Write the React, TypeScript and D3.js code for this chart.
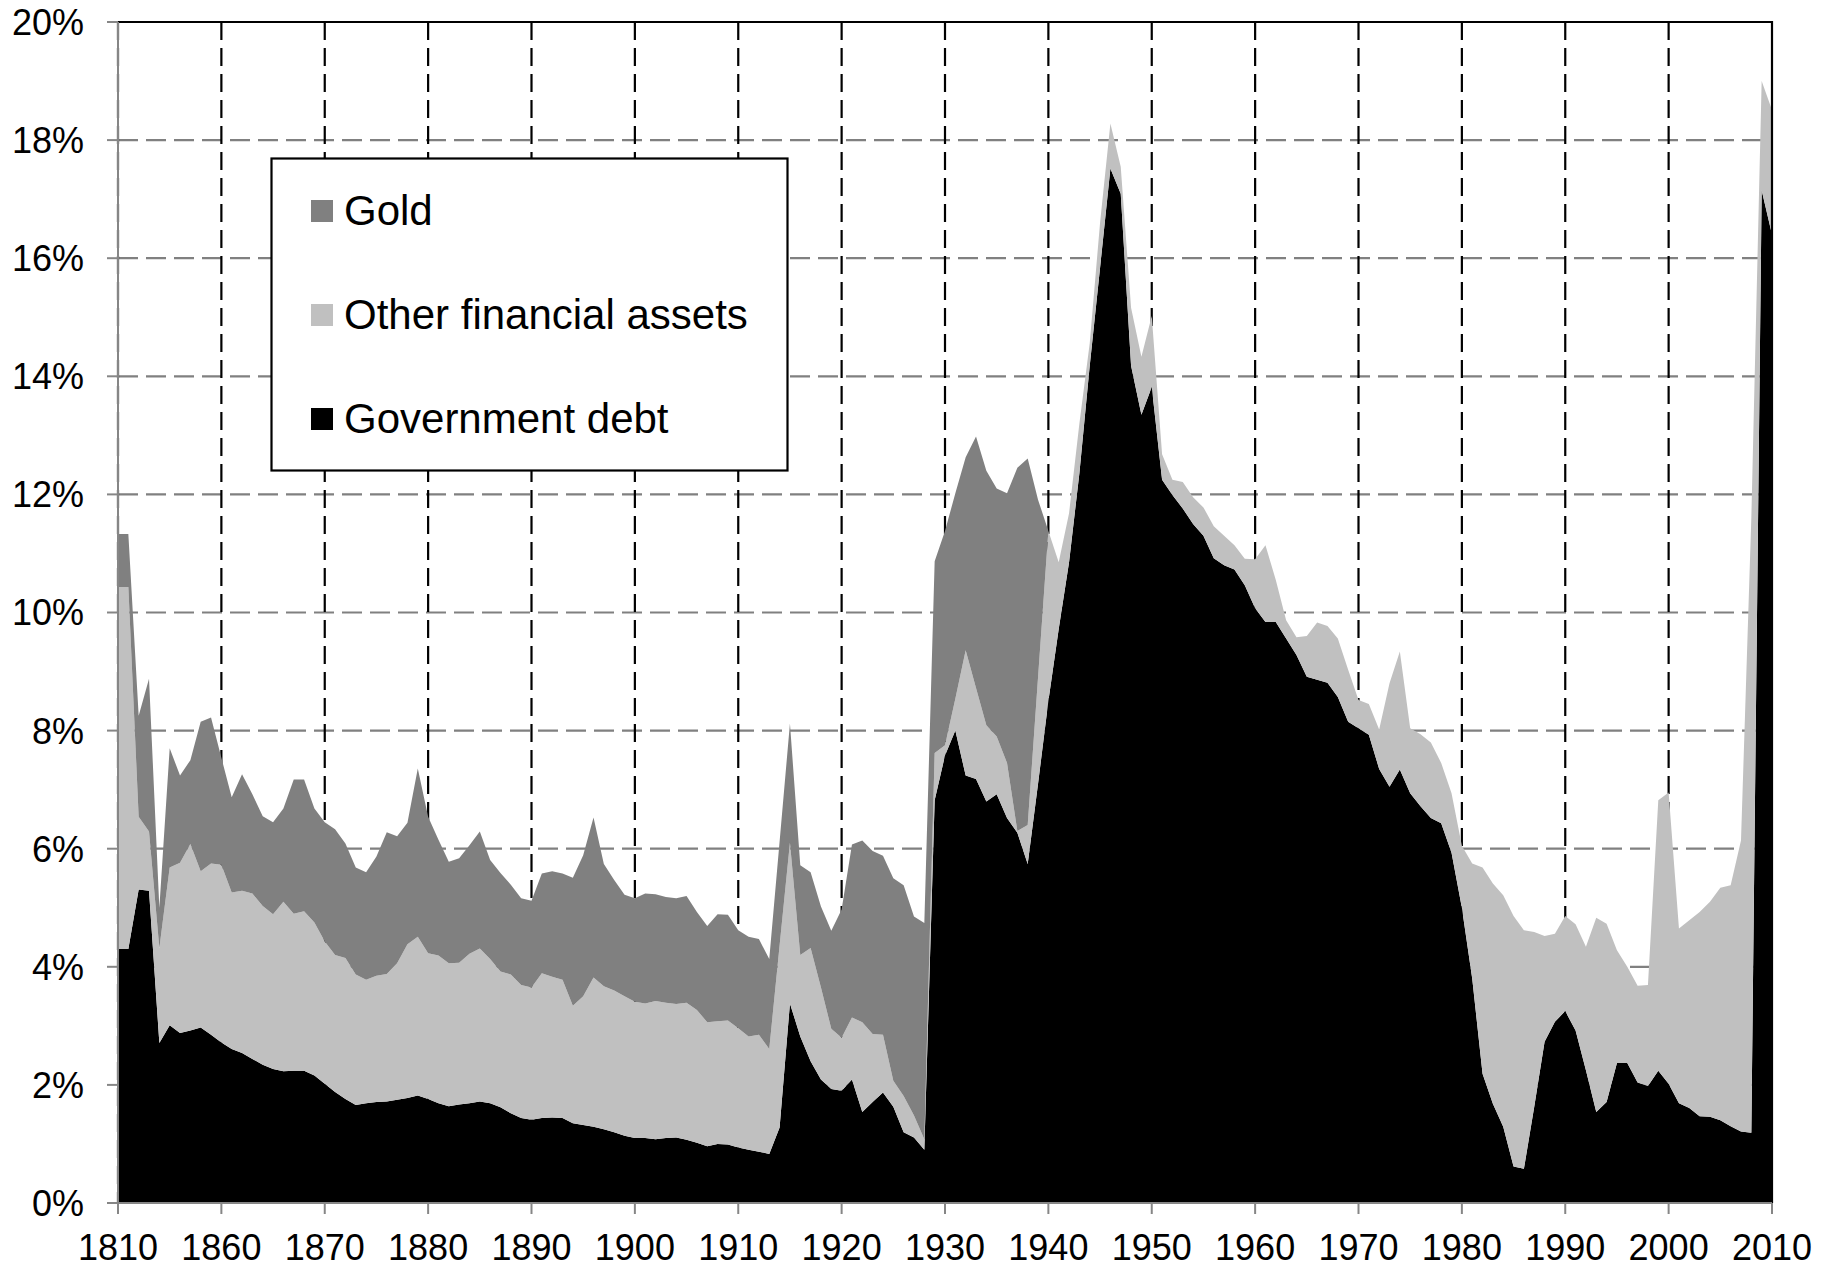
import React, { useEffect, useRef } from 'react';
import * as d3 from 'd3';

// categories: 5-year steps up to 1855, then annual
const years = [
  1810, 1815, 1820, 1825, 1830, 1835, 1840, 1845, 1850, 1855,
  1860, 1861, 1862, 1863, 1864, 1865, 1866, 1867, 1868, 1869,
  1870, 1871, 1872, 1873, 1874, 1875, 1876, 1877, 1878, 1879,
  1880, 1881, 1882, 1883, 1884, 1885, 1886, 1887, 1888, 1889,
  1890, 1891, 1892, 1893, 1894, 1895, 1896, 1897, 1898, 1899,
  1900, 1901, 1902, 1903, 1904, 1905, 1906, 1907, 1908, 1909,
  1910, 1911, 1912, 1913, 1914, 1915, 1916, 1917, 1918, 1919,
  1920, 1921, 1922, 1923, 1924, 1925, 1926, 1927, 1928, 1929,
  1930, 1931, 1932, 1933, 1934, 1935, 1936, 1937, 1938, 1939,
  1940, 1941, 1942, 1943, 1944, 1945, 1946, 1947, 1948, 1949,
  1950, 1951, 1952, 1953, 1954, 1955, 1956, 1957, 1958, 1959,
  1960, 1961, 1962, 1963, 1964, 1965, 1966, 1967, 1968, 1969,
  1970, 1971, 1972, 1973, 1974, 1975, 1976, 1977, 1978, 1979,
  1980, 1981, 1982, 1983, 1984, 1985, 1986, 1987, 1988, 1989,
  1990, 1991, 1992, 1993, 1994, 1995, 1996, 1997, 1998, 1999,
  2000, 2001, 2002, 2003, 2004, 2005, 2006, 2007, 2008, 2009,
  2010,
];

const xTickLabels = [
  '1810', '1860', '1870', '1880', '1890', '1900', '1910', '1920', '1930',
  '1940', '1950', '1960', '1970', '1980', '1990', '2000', '2010',
];
const yTicks = [0, 2, 4, 6, 8, 10, 12, 14, 16, 18, 20];

// % values per series (stacked: debt at the bottom, gold on top)
const govDebt = [
  4.30, 4.30, 5.31, 5.29, 2.71, 3.01, 2.88, 2.92, 2.97, 2.85,
  2.72, 2.61, 2.54, 2.44, 2.34, 2.27, 2.23, 2.24, 2.24, 2.16,
  2.02, 1.88, 1.76, 1.66, 1.69, 1.71, 1.72, 1.75, 1.78, 1.82,
  1.76, 1.69, 1.64, 1.67, 1.69, 1.72, 1.69, 1.62, 1.52, 1.44,
  1.41, 1.44, 1.45, 1.44, 1.35, 1.32, 1.29, 1.25, 1.20, 1.14,
  1.10, 1.10, 1.08, 1.10, 1.11, 1.07, 1.02, 0.96, 1.00, 0.99,
  0.94, 0.90, 0.87, 0.83, 1.28, 3.38, 2.82, 2.40, 2.09, 1.93,
  1.90, 2.09, 1.54, 1.71, 1.87, 1.63, 1.20, 1.11, 0.90, 6.82,
  7.58, 8.00, 7.24, 7.18, 6.80, 6.92, 6.52, 6.27, 5.74, 7.10,
  8.50, 9.72, 10.85, 12.36, 14.18, 15.84, 17.52, 17.09, 14.18, 13.35,
  13.82, 12.25, 11.99, 11.76, 11.50, 11.30, 10.92, 10.80, 10.73, 10.46,
  10.07, 9.84, 9.84, 9.56, 9.28, 8.91, 8.86, 8.81, 8.57, 8.15,
  8.04, 7.93, 7.35, 7.05, 7.34, 6.94, 6.72, 6.52, 6.43, 5.93,
  5.00, 3.80, 2.19, 1.68, 1.29, 0.62, 0.58, 1.63, 2.73, 3.07,
  3.25, 2.92, 2.25, 1.54, 1.71, 2.37, 2.37, 2.04, 1.98, 2.24,
  2.02, 1.69, 1.61, 1.47, 1.46, 1.40, 1.30, 1.21, 1.19, 17.15,
  16.40,
];

const otherAssets = [
  6.13, 6.13, 1.23, 1.00, 1.61, 2.67, 2.88, 3.16, 2.65, 2.90,
  3.01, 2.65, 2.75, 2.80, 2.69, 2.62, 2.87, 2.66, 2.70, 2.59,
  2.41, 2.32, 2.39, 2.21, 2.09, 2.14, 2.16, 2.31, 2.60, 2.69,
  2.47, 2.50, 2.42, 2.40, 2.53, 2.59, 2.44, 2.30, 2.35, 2.25,
  2.24, 2.45, 2.38, 2.34, 1.99, 2.18, 2.53, 2.42, 2.40, 2.36,
  2.31, 2.28, 2.34, 2.29, 2.26, 2.32, 2.25, 2.10, 2.08, 2.10,
  2.02, 1.92, 1.98, 1.78, 3.08, 2.72, 1.38, 1.92, 1.56, 1.02,
  0.90, 1.05, 1.52, 1.15, 0.98, 0.44, 0.61, 0.37, 0.18, 0.80,
  0.17, 0.54, 2.12, 1.54, 1.29, 0.98, 0.93, 0.03, 0.66, 1.80,
  2.88, 1.13, 0.83, 0.84, 0.38, 0.76, 0.76, 0.46, 0.98, 0.98,
  1.20, 0.43, 0.26, 0.45, 0.45, 0.48, 0.54, 0.50, 0.41, 0.45,
  0.83, 1.30, 0.71, 0.31, 0.30, 0.69, 0.97, 0.96, 0.99, 0.88,
  0.48, 0.52, 0.67, 1.75, 2.00, 1.10, 1.22, 1.28, 1.02, 1.01,
  1.05, 1.95, 3.49, 3.73, 3.92, 4.24, 4.04, 2.96, 1.79, 1.49,
  1.61, 1.80, 2.09, 3.29, 3.02, 1.91, 1.63, 1.64, 1.71, 4.58,
  4.93, 2.96, 3.18, 3.46, 3.64, 3.94, 4.08, 4.93, 10.41, 1.85,
  2.11,
];

const gold = [
  0.90, 0.90, 1.71, 2.59, 0.68, 2.02, 1.48, 1.42, 2.53, 2.47,
  1.81, 1.61, 1.97, 1.68, 1.52, 1.56, 1.58, 2.27, 2.23, 1.93,
  2.02, 2.13, 1.94, 1.81, 1.82, 2.02, 2.40, 2.15, 2.06, 2.85,
  2.31, 1.96, 1.72, 1.77, 1.84, 1.98, 1.68, 1.67, 1.52, 1.47,
  1.47, 1.69, 1.79, 1.80, 2.17, 2.39, 2.71, 2.07, 1.87, 1.72,
  1.75, 1.86, 1.81, 1.79, 1.79, 1.81, 1.66, 1.63, 1.81, 1.79,
  1.66, 1.69, 1.62, 1.52, 1.76, 2.02, 1.52, 1.28, 1.37, 1.66,
  2.17, 2.93, 3.08, 3.10, 3.03, 3.43, 3.57, 3.37, 3.66, 3.25,
  3.63, 3.48, 3.27, 4.26, 4.31, 4.20, 4.57, 6.15, 6.21, 3.01,
  0, 0, 0, 0, 0, 0, 0, 0, 0, 0,
  0, 0, 0, 0, 0, 0, 0, 0, 0, 0,
  0, 0, 0, 0, 0, 0, 0, 0, 0, 0,
  0, 0, 0, 0, 0, 0, 0, 0, 0, 0,
  0, 0, 0, 0, 0, 0, 0, 0, 0, 0,
  0, 0, 0, 0, 0, 0, 0, 0, 0, 0,
  0, 0, 0, 0, 0, 0, 0, 0, 0, 0,
  0,
];

const legendItems = [
  { key: 'gold', label: 'Gold', color: '#808080' },
  { key: 'other', label: 'Other financial assets', color: '#c0c0c0' },
  { key: 'gov', label: 'Government debt', color: '#000000' },
];

const WIDTH = 1828;
const HEIGHT = 1267;
const FONT = '"Liberation Sans", Arial, Helvetica, sans-serif';

interface Row {
  year: string;
  gov: number;
  other: number;
  gold: number;
}

const App: React.FC = () => {
  const svgRef = useRef<SVGSVGElement>(null);

  useEffect(() => {
    if (!svgRef.current) return;

    const svg = d3.select(svgRef.current);
    svg.selectAll('*').remove();

    const margin = { top: 22, right: 56, bottom: 64, left: 118 };
    const left = margin.left;
    const right = WIDTH - margin.right;
    const top = margin.top;
    const bottom = HEIGHT - margin.bottom;

    const rows: Row[] = years.map((y, i) => ({
      year: String(y),
      gov: govDebt[i],
      other: otherAssets[i],
      gold: gold[i],
    }));

    const x = d3.scalePoint<string>()
      .domain(rows.map(d => d.year))
      .range([left, right]);

    const y = d3.scaleLinear()
      .domain([0, 20])
      .range([bottom, top]);

    svg.append('rect')
      .attr('width', WIDTH)
      .attr('height', HEIGHT)
      .attr('fill', '#fff');

    // horizontal grid (gray dashes)
    svg.append('g')
      .selectAll('line')
      .data(yTicks.filter(t => t > 0 && t < 20))
      .join('line')
      .attr('x1', left)
      .attr('x2', right)
      .attr('y1', d => y(d))
      .attr('y2', d => y(d))
      .attr('stroke', '#808080')
      .attr('stroke-width', 2.2)
      .attr('stroke-dasharray', '20,8');

    // vertical grid (black dashes)
    svg.append('g')
      .selectAll('line')
      .data(xTickLabels.filter(t => t !== '2010'))
      .join('line')
      .attr('x1', d => x(d) as number)
      .attr('x2', d => x(d) as number)
      .attr('y1', top)
      .attr('y2', bottom)
      .attr('stroke', '#000')
      .attr('stroke-width', 2.2)
      .attr('stroke-dasharray', '18,8');

    // stacked areas
    const stack = d3.stack<Row>().keys(['gov', 'other', 'gold']);
    const series = stack(rows);
    const colors: Record<string, string> = { gov: '#000000', other: '#c0c0c0', gold: '#808080' };

    const area = d3.area<d3.SeriesPoint<Row>>()
      .x(d => x(d.data.year) as number)
      .y0(d => y(d[0]))
      .y1(d => y(d[1]))
      .curve(d3.curveLinear);

    svg.append('g')
      .selectAll('path')
      .data(series)
      .join('path')
      .attr('d', d => area(d) as string)
      .attr('fill', d => colors[d.key]);

    // plot border top / right
    svg.append('path')
      .attr('d', `M${left},${top}H${right}V${bottom}`)
      .attr('fill', 'none')
      .attr('stroke', '#000')
      .attr('stroke-width', 2.2);

    // Y axis
    const yAxis = svg.append('g');
    yAxis.append('line')
      .attr('x1', left).attr('x2', left)
      .attr('y1', top).attr('y2', bottom)
      .attr('stroke', '#868686').attr('stroke-width', 2);
    yAxis.selectAll('line.tick')
      .data(yTicks)
      .join('line')
      .attr('class', 'tick')
      .attr('x1', left - 11).attr('x2', left)
      .attr('y1', d => y(d)).attr('y2', d => y(d))
      .attr('stroke', '#868686').attr('stroke-width', 2);
    yAxis.selectAll('text')
      .data(yTicks)
      .join('text')
      .attr('x', 84)
      .attr('y', d => y(d))
      .attr('dy', '0.36em')
      .attr('text-anchor', 'end')
      .style('font-family', FONT)
      .style('font-size', '36px')
      .style('fill', '#000')
      .text(d => `${d}%`);

    // X axis
    const xAxis = svg.append('g');
    xAxis.append('line')
      .attr('x1', left).attr('x2', right)
      .attr('y1', bottom).attr('y2', bottom)
      .attr('stroke', '#868686').attr('stroke-width', 2);
    xAxis.selectAll('line.tick')
      .data(xTickLabels)
      .join('line')
      .attr('class', 'tick')
      .attr('x1', d => x(d) as number).attr('x2', d => x(d) as number)
      .attr('y1', bottom).attr('y2', bottom + 11)
      .attr('stroke', '#868686').attr('stroke-width', 2);
    xAxis.selectAll('text')
      .data(xTickLabels)
      .join('text')
      .attr('x', d => x(d) as number)
      .attr('y', 1260)
      .attr('text-anchor', 'middle')
      .style('font-family', FONT)
      .style('font-size', '36px')
      .style('fill', '#000')
      .text(d => d);

    // Legend
    const legend = svg.append('g');
    legend.append('rect')
      .attr('x', 271.5)
      .attr('y', 158.5)
      .attr('width', 516)
      .attr('height', 312)
      .attr('fill', '#fff')
      .attr('stroke', '#000')
      .attr('stroke-width', 2.2);

    legendItems.forEach((item, i) => {
      const row = legend.append('g')
        .attr('transform', `translate(311, ${225 + i * 104})`);
      row.append('rect')
        .attr('x', 0)
        .attr('y', -25)
        .attr('width', 22)
        .attr('height', 22)
        .attr('fill', item.color);
      row.append('text')
        .attr('x', 33)
        .attr('y', 0)
        .style('font-family', FONT)
        .style('font-size', '42px')
        .style('fill', '#000')
        .text(item.label);
    });
  }, []);

  return (
    <div style={{ position: 'absolute', left: 0, top: 0 }}>
      <svg ref={svgRef} width={WIDTH} height={HEIGHT} style={{ display: 'block' }}></svg>
    </div>
  );
};

export default App;
